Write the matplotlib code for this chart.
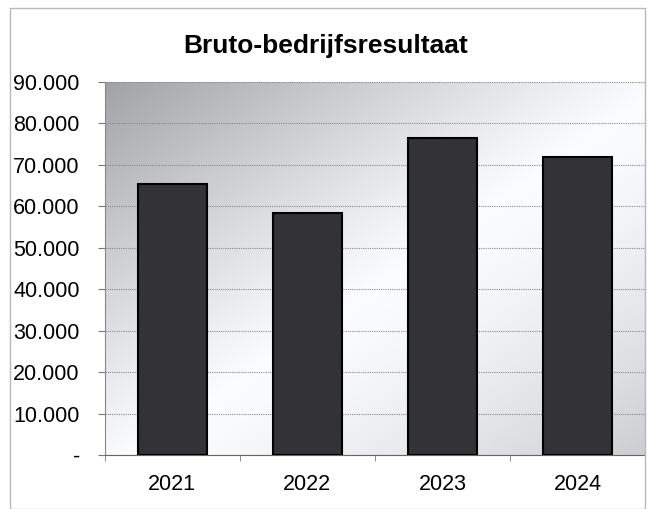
import matplotlib.pyplot as plt
import numpy as np
from matplotlib.patches import Rectangle
from matplotlib.ticker import FuncFormatter

years = ["2021", "2022", "2023", "2024"]
results = [65500, 58300, 76400, 71800]
y_ticks = [0, 10000, 20000, 30000, 40000, 50000, 60000, 70000, 80000, 90000]


def _fmt(v, _pos):
    if v == 0:
        return "-"
    return f"{int(v):,}".replace(",", ".")


plt.rcParams.update({"font.family": ["Liberation Sans", "DejaVu Sans"]})

fig = plt.figure(figsize=(6.51, 5.09), dpi=100)
fig.patch.set_facecolor("white")
fig.patches.append(Rectangle((0.016, 0.0), 0.975, 0.985, transform=fig.transFigure,
                             fill=False, edgecolor="#b8b8b8", linewidth=1.0))

ax = fig.add_axes([0.161, 0.106, 0.830, 0.733])

# diagonal gradient: grey at top-left and bottom-right, white band in between
gx, gy = np.meshgrid(np.linspace(0, 1, 300), np.linspace(0, 1, 300))
s = gx + gy
shade = np.where(s < 1.05,
                 1 - 0.34 * np.clip(1.05 - s, 0, None) ** 1.1,
                 1 - 0.20 * np.clip(s - 1.05, 0, None) ** 1.4)
rgb = np.dstack([shade * 0.985, shade * 0.99, np.clip(shade * 1.0 + 0.03 * (1 - shade), 0, 1)])
ax.imshow(rgb, extent=(-0.5, 3.5, 0, 90000), aspect="auto", origin="upper", zorder=0)

x = np.arange(len(years))
ax.bar(x, results, width=0.51, color="#333337", edgecolor="black", linewidth=1.5, zorder=3)

ax.set_xlim(-0.5, 3.5)
ax.set_ylim(0, 90000)
ax.set_yticks(y_ticks)
ax.yaxis.set_major_formatter(FuncFormatter(_fmt))
ax.set_xticks(x)
ax.set_xticklabels(years)
ax.set_xticks([-0.5, 0.5, 1.5, 2.5, 3.5], minor=True)
ax.grid(axis="y", color="#8a8a8a", linestyle=(0, (1, 1)), linewidth=0.8, zorder=1)
ax.tick_params(axis="y", labelsize=15.5, length=5, color="#777777", pad=13)
ax.tick_params(axis="x", which="major", labelsize=15.5, length=0, pad=14)
ax.tick_params(axis="x", which="minor", length=4, color="#777777")
for side in ["top", "right"]:
    ax.spines[side].set_visible(False)
ax.spines["left"].set_color("#888888")
ax.spines["bottom"].set_color("#666666")

fig.text(0.5, 0.91, "Bruto-bedrijfsresultaat", ha="center", va="center",
         fontsize=19, fontweight="bold")

fig.savefig("out.png", dpi=100)
